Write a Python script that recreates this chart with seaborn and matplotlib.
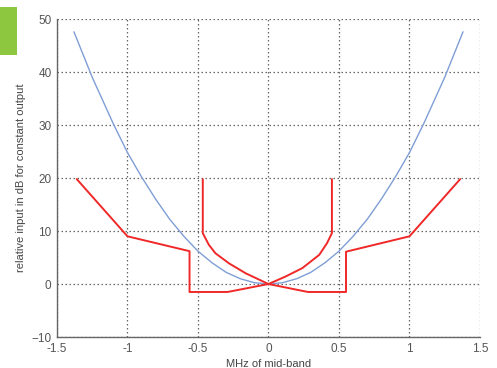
import matplotlib
matplotlib.use("Agg")
import matplotlib.pyplot as plt
import matplotlib.patches as mpatches
import seaborn as sns
import pandas as pd

sns.set_style("white")
plt.rcParams["font.family"] = ["Liberation Sans", "DejaVu Sans"]

# Parabolic response (blue)
blue_x = [-1.38, -1.25, -1.1, -1.0, -0.9, -0.8, -0.7, -0.6, -0.5, -0.4, -0.3, -0.2, -0.1, 0.0,
          0.1, 0.2, 0.3, 0.4, 0.5, 0.6, 0.7, 0.8, 0.9, 1.0, 1.1, 1.25, 1.38]
blue_y = [47.6, 39.0, 30.2, 24.8, 20.2, 16.0, 12.2, 9.0, 6.2, 4.0, 2.2, 1.0, 0.25, 0.0,
          0.25, 1.0, 2.2, 4.0, 6.2, 9.0, 12.2, 16.0, 20.2, 24.8, 30.2, 39.0, 47.6]

# Mask limits (red), two traces crossing at the centre
red1_x = [-1.36, -1.0, -0.56, -0.56, -0.29, 0.0, 0.12, 0.24, 0.36, 0.415, 0.45, 0.45]
red1_y = [19.8, 9.0, 6.2, -1.5, -1.5, 0.0, 1.4, 3.0, 5.5, 7.7, 9.6, 19.8]
red2_x = [1.36, 1.0, 0.55, 0.55, 0.28, 0.0, -0.16, -0.28, -0.376, -0.423, -0.466, -0.466]
red2_y = [19.8, 9.0, 6.1, -1.5, -1.5, 0.0, 2.0, 3.9, 5.8, 7.4, 9.6, 19.8]

x_ticks = [-1.5, -1, -0.5, 0, 0.5, 1, 1.5]
x_labels = ["-1.5", "-1", "-0.5", "0", "0.5", "1", "1.5"]
y_ticks = [-10, 0, 10, 20, 30, 40, 50]

fig = plt.figure(figsize=(4.97, 3.68), dpi=100)
ax = fig.add_axes([0.1147, 0.0842, 0.851, 0.864])

# decorative corner block
fig.patches.append(mpatches.Rectangle((0, 0.85), 0.034, 0.13, transform=fig.transFigure,
                                      facecolor="#8dc63f", edgecolor="none", zorder=5))

blue = pd.DataFrame({"x": blue_x, "y": blue_y})
sns.lineplot(data=blue, x="x", y="y", sort=False, estimator=None, ax=ax,
             color="#7f9ed6", linewidth=1.0)
for xs, ys in [(red1_x, red1_y), (red2_x, red2_y)]:
    df = pd.DataFrame({"x": xs, "y": ys})
    sns.lineplot(data=df, x="x", y="y", sort=False, estimator=None, ax=ax,
                 color="#f02828", linewidth=1.4)

ax.set_xlim(-1.5, 1.5)
ax.set_ylim(-10, 50)
ax.set_xticks(x_ticks)
ax.set_xticklabels(x_labels)
ax.set_yticks(y_ticks)
ax.grid(True, linestyle=(0, (1.2, 2.0)), color="#666666", linewidth=0.9)
for s in ["top", "right"]:
    ax.spines[s].set_visible(False)
for s in ["left", "bottom"]:
    ax.spines[s].set_color("#666666")
    ax.spines[s].set_linewidth(1.0)
ax.tick_params(axis="both", direction="in", length=3, color="#666666",
               labelsize=8.5, labelcolor="#555555", pad=4)
ax.set_xlabel("MHz of mid-band", fontsize=8, color="#444444", labelpad=3)
ax.set_ylabel("relative input in dB for constant output", fontsize=8, color="#444444", labelpad=4)

fig.savefig("out.png", dpi=100)
